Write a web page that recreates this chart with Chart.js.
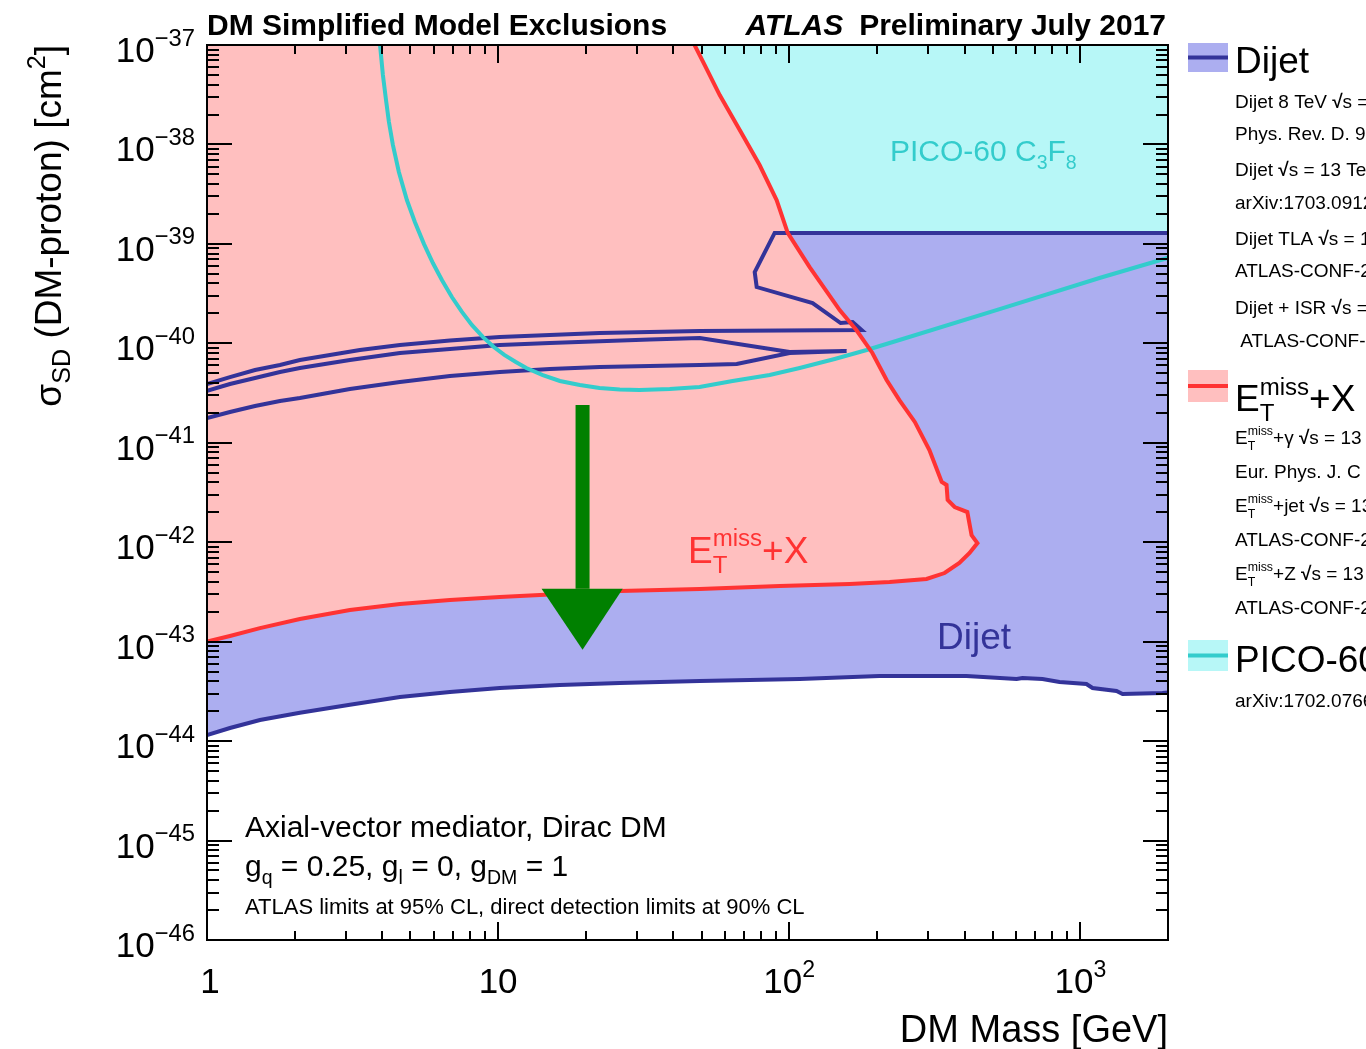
<!DOCTYPE html>
<html><head><meta charset="utf-8">
<script src="https://cdn.jsdelivr.net/npm/chart.js@4.4.0/dist/chart.umd.min.js"></script>
<style>html,body{margin:0;padding:0;background:#fff;overflow:hidden}</style>
</head><body>
<canvas id="c" width="1366" height="1049" style="display:block;width:1366px;height:1049px"></canvas>
<script>
// ---------------- data (DM mass in GeV, cross-section in cm^2) ----------------
const picoMass = [3.86, 3.93, 4.02, 4.12, 4.216, 4.35, 4.561, 4.86, 5.176, 5.56, 5.969, 6.41, 6.936, 7.51, 8.123, 8.86, 9.665, 10.5, 11.503, 12.5, 14.24, 16.3, 19.08, 22.3, 26.17, 30.6, 38.86, 49.2, 63.9, 85.65, 108.6, 143.2, 184.5, 239, 528, 1163, 1990, 2300];
const picoXsec = [1.26e-37, 1e-37, 4.99e-38, 2.8e-38, 1.68e-38, 9.9e-39, 5.28e-39, 2.76e-39, 1.66e-39, 1.0e-39, 6.42e-40, 4.34e-40, 2.92e-40, 2.07e-40, 1.53e-40, 1.16e-40, 9.19e-41, 7.64e-41, 6.49e-41, 5.65e-41, 4.80e-41, 4.18e-41, 3.81e-41, 3.56e-41, 3.43e-41, 3.40e-41, 3.47e-41, 3.64e-41, 4.18e-41, 4.80e-41, 5.65e-41, 6.96e-41, 8.57e-41, 1.08e-40, 2.21e-40, 4.54e-40, 7.21e-40, 8.2e-40];

const metMass = [0.9, 1.0, 1.199, 1.52, 2.085, 3.097, 4.60, 6.83, 10.14, 16.3, 26.17, 49.25, 92.7, 161.3, 221.1, 296.2, 341.6, 384, 416.3, 443, 423, 409, 370, 350, 347, 334, 303, 270, 239, 216, 193, 170, 149, 117.5, 98.8, 90.5, 79.1, 67.6, 57.7, 51.2, 47.3, 43.8];
const metXsec = [9.1e-44, 1.0e-43, 1.14e-43, 1.37e-43, 1.69e-43, 2.08e-43, 2.39e-43, 2.63e-43, 2.81e-43, 3.01e-43, 3.23e-43, 3.38e-43, 3.63e-43, 3.80e-43, 3.98e-43, 4.27e-43, 4.90e-43, 6.18e-43, 7.79e-43, 9.8e-43, 1.18e-42, 2.01e-42, 2.26e-42, 2.66e-42, 3.76e-42, 4.03e-42, 8.45e-42, 1.62e-41, 2.69e-41, 4.28e-41, 8.0e-41, 1.36e-40, 2.16e-40, 5.85e-40, 1.29e-39, 2.76e-39, 6.21e-39, 1.40e-38, 3.14e-38, 6.3e-38, 1e-37, 1.58e-37];

const dijetUpperMass = [0.946, 1.0, 1.199, 1.462, 1.781, 2.085, 2.644, 3.352, 4.60, 6.83, 10.14, 15.05, 22.34, 33.18, 49.25, 177.3, 165.1, 150.1, 120.3, 77.3, 76.1, 89.1, 2104];
const dijetUpperXsec = [3.72e-41, 3.90e-41, 4.58e-41, 5.39e-41, 6.05e-41, 6.79e-41, 7.63e-41, 8.57e-41, 9.62e-41, 1.067e-40, 1.16e-40, 1.213e-40, 1.27e-40, 1.30e-40, 1.33e-40, 1.36e-40, 1.64e-40, 1.60e-40, 2.54e-40, 3.68e-40, 5.21e-40, 1.29e-39, 1.29e-39];

const dijetLowerMass = [0.946, 1.0, 1.199, 1.52, 2.085, 3.097, 4.60, 6.83, 10.14, 16.3, 26.17, 49.25, 108.6, 204, 406, 604, 633, 741, 848, 1049, 1101, 1331, 1396, 1914, 2104];
const dijetLowerXsec = [1.10e-44, 1.15e-44, 1.354e-44, 1.63e-44, 1.93e-44, 2.32e-44, 2.78e-44, 3.11e-44, 3.42e-44, 3.66e-44, 3.84e-44, 4.02e-44, 4.21e-44, 4.51e-44, 4.51e-44, 4.21e-44, 4.31e-44, 4.21e-44, 3.93e-44, 3.75e-44, 3.42e-44, 3.19e-44, 2.98e-44, 3.05e-44, 3.12e-44];

const dijetLowMassMass = [0.946, 1.0, 1.199, 1.462, 1.781, 2.085, 3.097, 4.60, 6.83, 10.14, 15.05, 22.34, 33.18, 49.25, 100.3, 157.4, 100.3, 66.0, 49.25, 33.18, 22.34, 15.05, 10.14, 6.83, 4.60, 3.097, 2.085, 1.781, 1.462, 1.199, 1.0, 0.946];
const dijetLowMassXsec = [3.16e-41, 3.32e-41, 3.90e-41, 4.48e-41, 5.15e-41, 5.65e-41, 6.79e-41, 8.0e-41, 8.77e-41, 9.62e-41, 1.007e-40, 1.05e-40, 1.092e-40, 1.13e-40, 8.19e-41, 8.38e-41, 8.0e-41, 6.2e-41, 6.05e-41, 5.91e-41, 5.78e-41, 5.52e-41, 5.15e-41, 4.69e-41, 4.08e-41, 3.47e-41, 2.82e-41, 2.63e-41, 2.34e-41, 2.04e-41, 1.77e-41, 1.69e-41];

const arrowShaftMass = [19.5, 19.5];
const arrowShaftXsec = [2.4e-41, 3.4e-43];
const arrowHeadMass = [14.1, 26.8, 19.5];
const arrowHeadXsec = [3.4e-43, 3.4e-43, 8.3e-44];

// points beyond the frame used only to close filled areas
const outsideMass = [0.5, 3000];
const outsideXsec = [1e-36];

// axes
const xTickValues = [1, 10, 100, 1000];
const xTickLabels = ['1', '10', '10^{2}', '10^{3}'];
const yTickExps = [-37, -38, -39, -40, -41, -42, -43, -44, -45, -46];

// ---------------- styles ----------------
const C = {
  pink: '#ffbfbf', red: '#ff3333',
  blue: '#acaef0', navy: '#333399',
  cyanFill: '#b7f7f7', cyan: '#33cccc',
  green: '#008000'
};
const FONT = '"Liberation Sans", Arial, Helvetica, sans-serif';

const pts = (xs, ys) => xs.map((x, i) => ({x, y: ys[i]}));

const cyanPoly = pts(picoMass, picoXsec).concat([
  {x: outsideMass[1], y: outsideXsec[0]}, {x: picoMass[0], y: outsideXsec[0]}]);
const pinkPoly = pts(metMass, metXsec).concat([
  {x: outsideMass[0], y: outsideXsec[0]}, {x: outsideMass[0], y: metXsec[0]}]);
const dijetPoly = pts(dijetUpperMass, dijetUpperXsec).concat(pts(dijetLowerMass, dijetLowerXsec).reverse());

function ds(data, o) {
  return Object.assign({data, showLine: true, pointRadius: 0, pointHoverRadius: 0, tension: 0,
    borderWidth: 0, fill: false, clip: 0, borderColor: 'rgba(0,0,0,0)', backgroundColor: 'rgba(0,0,0,0)'}, o);
}

// ---------------- rich text ----------------
function tokens(s) {
  const toks = []; let i = 0, buf = '';
  const flush = () => { if (buf) { toks.push({text: buf, mode: 'n'}); buf = ''; } };
  while (i < s.length) {
    const c = s[i];
    if ((c === '^' || c === '_') && s[i + 1] === '{') {
      flush();
      const end = s.indexOf('}', i + 2);
      toks.push({text: s.slice(i + 2, end), mode: c === '^' ? 'sup' : 'sub'});
      i = end + 1;
    } else if (c === '√') {
      flush(); toks.push({text: c, mode: 'n', bold: true}); i++;
    } else { buf += c; i++; }
  }
  flush();
  return toks;
}
function drawRich(ctx, s, x, y, size, o = {}) {
  const weight = o.weight || 'normal', style = o.style || 'normal';
  const supS = o.supScale || 0.65, rise = o.rise || 0.45, drop = o.drop || 0.28;
  const font = (sz, b) => `${style} ${b ? 'bold' : weight} ${sz}px ${FONT}`;
  const meas = (t, sz, b) => { ctx.font = font(sz, b); return ctx.measureText(t).width; };
  const toks = tokens(s);
  const items = []; let cx = 0;
  const dyOf = m => m === 'sup' ? -size * rise : size * drop;
  for (let k = 0; k < toks.length; k++) {
    const t = toks[k];
    if (t.mode === 'n') { items.push({t: t.text, x: cx, dy: 0, sz: size, b: t.bold}); cx += meas(t.text, size, t.bold); continue; }
    const ss = size * supS;
    let w = meas(t.text, ss);
    items.push({t: t.text, x: cx, dy: dyOf(t.mode), sz: ss});
    const n = toks[k + 1];
    if (n && n.mode !== 'n' && n.mode !== t.mode) {
      const w2 = meas(n.text, ss);
      items.push({t: n.text, x: cx, dy: dyOf(n.mode), sz: ss});
      w = Math.max(w, w2); k++;
    }
    cx += w;
  }
  let x0 = x;
  if (o.align === 'right') x0 = x - cx; else if (o.align === 'center') x0 = x - cx / 2;
  ctx.fillStyle = o.color || '#000';
  ctx.textBaseline = 'alphabetic'; ctx.textAlign = 'left';
  for (const it of items) { ctx.font = font(it.sz, it.b); ctx.fillText(it.t, x0 + it.x, y + it.dy); }
  return cx;
}

// ---------------- legend content ----------------
const legendGroups = [
  {boxTop: 43, boxH: 29, fill: C.blue, line: C.navy, title: 'Dijet', titleBase: 73,
   rows: ['Dijet 8 TeV √s = 8 TeV, 20.3 fb^{-1}', 'Phys. Rev. D. 91 (2015) 052007',
          'Dijet √s = 13 TeV, 37.0 fb^{-1}', 'arXiv:1703.09127',
          'Dijet TLA √s = 13 TeV, 3.4 fb^{-1}', 'ATLAS-CONF-2016-030',
          'Dijet + ISR √s = 13 TeV, 15.5 fb^{-1}', ' ATLAS-CONF-2016-070'],
   rowBase: [108, 140, 176, 209, 245, 277, 314, 347]},
  {boxTop: 370, boxH: 32, fill: C.pink, line: C.red, title: 'E^{miss}_{T}+X', titleBase: 411,
   rows: ['E^{miss}_{T}+γ √s = 13 TeV, 36.1 fb^{-1}', 'Eur. Phys. J. C 77 (2017) 393',
          'E^{miss}_{T}+jet √s = 13 TeV, 36.1 fb^{-1}', 'ATLAS-CONF-2017-060',
          'E^{miss}_{T}+Z √s = 13 TeV, 36.1 fb^{-1}', 'ATLAS-CONF-2017-040'],
   rowBase: [444, 478, 512, 546, 580, 614]},
  {boxTop: 640, boxH: 31, fill: C.cyanFill, line: C.cyan, title: 'PICO-60 C_{3}F_{8}', titleBase: 672,
   rows: ['arXiv:1702.07666'], rowBase: [707]}
];

// ---------------- decoration plugin ----------------
const deco = {
  id: 'deco',
  afterDatasetsDraw(chart) {
    const ctx = chart.ctx, a = chart.chartArea, xs = chart.scales.x, ys = chart.scales.y;
    ctx.save();
    drawRich(ctx, 'PICO-60 C_{3}F_{8}', 890, 161, 30, {color: C.cyan});
    drawRich(ctx, 'E^{miss}_{T}+X', 688, 563, 37, {color: C.red});
    drawRich(ctx, 'Dijet', 937, 649, 37, {color: C.navy});
    drawRich(ctx, 'Axial-vector mediator, Dirac DM', 245, 837, 30);
    drawRich(ctx, 'g_{q} = 0.25, g_{l} = 0, g_{DM} = 1', 245, 876, 30);
    drawRich(ctx, 'ATLAS limits at 95% CL, direct detection limits at 90% CL', 245, 914, 22);

    ctx.strokeStyle = '#000'; ctx.lineWidth = 2;
    ctx.beginPath();
    for (let e = 0; e <= 3; e++) for (let k = 1; k <= 9; k++) {
      const v = k * Math.pow(10, e); if (v > xs.max) break;
      const px = Math.round(xs.getPixelForValue(v));
      const len = k === 1 ? 18 : 9;
      ctx.moveTo(px, a.bottom); ctx.lineTo(px, a.bottom - len);
      ctx.moveTo(px, a.top); ctx.lineTo(px, a.top + len);
    }
    for (let e = -46; e <= -37; e++) for (let k = 1; k <= 9; k++) {
      if (e === -37 && k > 1) break;
      const v = k * Math.pow(10, e);
      const py = Math.round(ys.getPixelForValue(v));
      const len = k === 1 ? 25 : 12;
      ctx.moveTo(a.left, py); ctx.lineTo(a.left + len, py);
      ctx.moveTo(a.right, py); ctx.lineTo(a.right - len, py);
    }
    ctx.stroke();
    ctx.strokeRect(a.left, a.top, a.right - a.left, a.bottom - a.top);
    ctx.restore();
  },
  afterDraw(chart) {
    const ctx = chart.ctx, a = chart.chartArea, xs = chart.scales.x, ys = chart.scales.y;
    ctx.save();
    xTickValues.forEach((v, i) => {
      drawRich(ctx, xTickLabels[i], xs.getPixelForValue(v) + (i === 0 ? 3 : 0), 993, 35, {align: 'center', supScale: 0.66, rise: 0.45});
    });
    yTickExps.forEach(e => {
      const py = ys.getPixelForValue(Math.pow(10, e));
      drawRich(ctx, '10^{−' + (-e) + '}', 195, py + 17, 35, {align: 'right', supScale: 0.68, rise: 0.47});
    });
    drawRich(ctx, 'DM Mass [GeV]', a.right, 1042, 38, {align: 'right'});
    ctx.save();
    ctx.translate(61, a.top); ctx.rotate(-Math.PI / 2);
    drawRich(ctx, 'σ_{SD} (DM-proton) [cm^{2}]', 0, 0, 37, {align: 'right', supScale: 0.68, rise: 0.42, drop: 0.25});
    ctx.restore();
    drawRich(ctx, 'DM Simplified Model Exclusions', a.left, 35, 30, {weight: 'bold'});
    const w = drawRich(ctx, 'Preliminary July 2017', 1166, 35, 30, {weight: 'bold', align: 'right'});
    drawRich(ctx, 'ATLAS', 1166 - w - 16, 35, 30, {weight: 'bold', style: 'italic', align: 'right'});
    legendGroups.forEach(g => {
      ctx.fillStyle = g.fill; ctx.fillRect(1188, g.boxTop, 40, g.boxH);
      ctx.strokeStyle = g.line; ctx.lineWidth = 4;
      ctx.beginPath(); ctx.moveTo(1188, g.boxTop + g.boxH / 2); ctx.lineTo(1228, g.boxTop + g.boxH / 2); ctx.stroke();
      drawRich(ctx, g.title, 1235, g.titleBase, 37, {supScale: 0.65, rise: 0.42, drop: 0.28});
      g.rows.forEach((r, i) => drawRich(ctx, r, 1235, g.rowBase[i], 19, {supScale: 0.65, rise: 0.45, drop: 0.3}));
    });
    ctx.restore();
  }
};

new Chart(document.getElementById('c'), {
  type: 'scatter',
  data: {
    datasets: [
      ds(cyanPoly, {fill: 'shape', backgroundColor: C.cyanFill, order: 20}),
      ds(dijetPoly, {fill: 'shape', backgroundColor: C.blue, order: 19}),
      ds(pinkPoly, {fill: 'shape', backgroundColor: C.pink, order: 18}),
      ds(dijetPoly, {borderWidth: 4, borderColor: C.navy, order: 17}),
      ds(pts(dijetLowMassMass, dijetLowMassXsec), {borderWidth: 4, borderColor: C.navy, order: 16}),
      ds(pts(picoMass, picoXsec), {borderWidth: 4, borderColor: C.cyan, order: 15}),
      ds(pts(metMass, metXsec), {borderWidth: 4, borderColor: C.red, order: 14}),
      ds(pts(arrowShaftMass, arrowShaftXsec), {borderWidth: 14, borderColor: C.green, order: 13}),
      ds(pts(arrowHeadMass, arrowHeadXsec), {fill: 'shape', backgroundColor: C.green, order: 12})
    ]
  },
  options: {
    responsive: false, devicePixelRatio: 1, animation: false, events: [],
    layout: {padding: {left: 0, right: 198, top: 45, bottom: 0}},
    plugins: {legend: {display: false}, tooltip: {enabled: false}, title: {display: false}},
    scales: {
      x: {type: 'logarithmic', min: 1, max: 2000, bounds: 'data',
          grid: {display: false}, border: {display: false}, ticks: {display: false},
          afterFit: s => { s.height = 109; }},
      y: {type: 'logarithmic', min: 1e-46, max: 1e-37, bounds: 'data',
          grid: {display: false}, border: {display: false}, ticks: {display: false},
          afterFit: s => { s.width = 207; }}
    }
  },
  plugins: [deco]
});
</script>
</body></html>
